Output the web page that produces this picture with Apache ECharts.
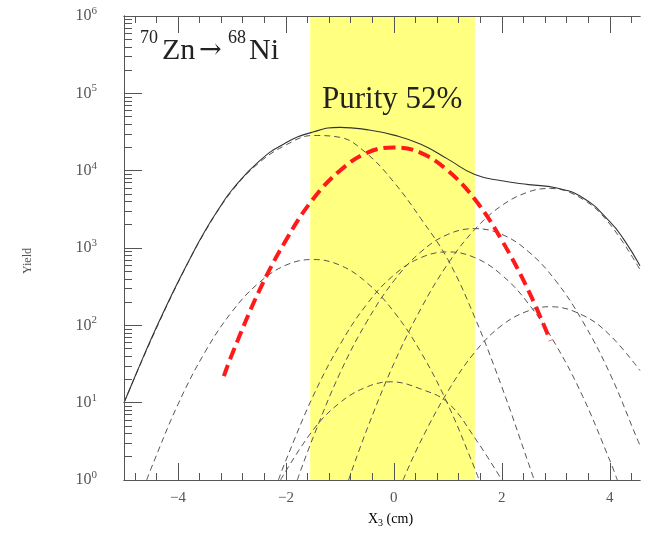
<!DOCTYPE html>
<html><head><meta charset="utf-8">
<script src="https://cdn.jsdelivr.net/npm/echarts@6/dist/echarts.min.js"></script>
<style>html,body{margin:0;padding:0;background:#fff}#c{width:650px;height:537px}</style>
</head><body><div id="c"></div>
<script>
// ---- axis ranges & ticks ----
const xRange = [-5, 4.56];
const yRange = [1, 1000000];
const purityBand = [-1.55, 1.5];
const xMajorTicks = [-4, -2, 0, 2, 4];
const xMinorTicks = [-4.8, -4.4, -3.6, -3.2, -2.8, -2.4, -1.6, -1.2, -0.8, -0.4, 0.4, 0.8, 1.2, 1.6, 2.4, 2.8, 3.2, 3.6, 4.4];
const yMajorTicks = [1, 10, 100, 1000, 10000, 100000, 1000000];
const yMinorTicks = [2,3,4,5,6,7,8,9,20,30,40,50,60,70,80,90,200,300,400,500,600,700,800,900,
  2000,3000,4000,5000,6000,7000,8000,9000,20000,30000,40000,50000,60000,70000,80000,90000,
  200000,300000,400000,500000,600000,700000,800000,900000];
const yExponents = {1:'0',10:'1',100:'2',1000:'3',10000:'4',100000:'5',1000000:'6'};

// ---- series: [X3 (cm), yield] ----
const totalYield = [[-5,10],[-4.75,26],[-4.5,66],[-4.25,158],[-4,363],[-3.75,794],[-3.5,1660],[-3.25,3160],[-3,5620],[-2.5,13200],[-2,22900],[-1.5,31600],[-1,36300],[-0.5,33900],[0,28800],[0.5,21900],[1,14100],[1.5,8900],[2,7400],[2.5,6600],[3,6000],[3.5,4470],[4,2190],[4.25,1320],[4.56,590]];
const ni68Yield = [[-3.15,22],[-3,42],[-2.5,275],[-2,1260],[-1.5,4270],[-1,10000],[-0.5,17000],[0,20000],[0.5,17000],[1,10000],[1.5,4270],[2,1260],[2.5,275],[2.9,63]];
const contamL1 = [[-5,10],[-4.5,64],[-4,355],[-3.5,1620],[-3,5450],[-2.5,12600],[-2,21500],[-1.5,28500],[-1,27000],[-0.5,16600],[0,7100],[0.5,2400],[1,710],[1.5,126],[2,16],[2.5,1.6],[2.6,1]];
const contamA = [[-4.58,1],[-4.5,1.4],[-4,9.5],[-3.5,45],[-3,150],[-2.5,355],[-2,600],[-1.5,710],[-1,600],[-0.5,355],[0,150],[0.5,45],[1,9.5],[1.5,1.4],[1.58,1]];
const contamM1 = [[-1.79,1],[-1.5,3.5],[-1,24],[-0.5,112],[0,376],[0.5,890],[1,1500],[1.5,1780],[2,1500],[2.5,890],[3,376],[3.5,112],[4,24],[4.5,3.5],[4.56,2.8]];
const contamM2 = [[-2.14,1],[-2,1.8],[-1.5,12],[-1,56],[-0.5,188],[0,447],[0.5,750],[1,890],[1.5,750],[2,447],[2.5,188],[3,56],[3.5,12],[4,1.8],[4.14,1]];
const contamR = [[-0.84,1],[-0.5,4.5],[0,32],[0.5,164],[1,624],[1.5,1740],[2,3550],[2.5,5330],[2.9,5890],[3.5,4270],[4,2040],[4.56,525]];
const contamR2 = [[0.17,1],[0.5,3.2],[1,14],[1.5,45],[2,100],[2.5,155],[2.9,174],[3.5,135],[4,75],[4.56,26]];
const contamS1 = [[-2.1,1],[-1.5,4.4],[-1,10],[-0.5,16],[-0.05,18.6],[0.5,15],[1,10],[1.5,3.5],[2,1]];

const dashedSets = [contamL1, contamA, contamM1, contamM2, contamR, contamR2, contamS1];

const chart = echarts.init(document.getElementById('c'), null, {renderer:'canvas'});
const axisColor = '#555';
const labelColor = '#555';
const serif = 'Liberation Serif';

function xAxisDef(pos, ticks, len, labels) {
  return {
    type:'value', position:pos, min:xRange[0], max:xRange[1], z:5,
    axisLine:{show:true, onZero:false, lineStyle:{color:axisColor, width:1}},
    axisTick:{show:true, inside:true, length:len, customValues:ticks, lineStyle:{color:axisColor, width:1}},
    axisLabel:{show:labels, customValues:ticks, margin:11, color:labelColor, fontFamily:serif, fontSize:15,
      formatter: v => String(v).replace('-', '\u2212')},
    splitLine:{show:false}
  };
}
function yAxisDef(ticks, len, labels) {
  return {
    type:'log', logBase:10, position:'left', min:yRange[0], max:yRange[1], z:5,
    axisLine:{show:true, onZero:false, lineStyle:{color:axisColor, width:1}},
    axisTick:{show:true, inside:true, length:len, customValues:ticks, lineStyle:{color:axisColor, width:1}},
    axisLabel:{show:labels, customValues:ticks, margin:27, color:labelColor,
      formatter: v => '{b|10}{e|' + yExponents[Math.round(v)] + '}',
      rich:{b:{fontFamily:serif, fontSize:16, color:labelColor},
            e:{fontFamily:serif, fontSize:11, color:labelColor, padding:[0,0,10,0]}}},
    splitLine:{show:false}, minorTick:{show:false}
  };
}

const series = [];
series.push({
  type:'line', data: totalYield, showSymbol:false, smooth:0.5, z:4,
  lineStyle:{color:'#333', width:1.1},
  markArea:{silent:true, itemStyle:{color:'#ffff80'}, data:[[{xAxis:purityBand[0]},{xAxis:purityBand[1]}]]}
});
dashedSets.forEach(d => series.push({
  type:'line', data:d, showSymbol:false, smooth:0.4, z:3,
  lineStyle:{color:'#555', width:1, type:[6,4]}
}));
series.push({
  type:'line', data: ni68Yield, showSymbol:false, smooth:0.4, z:6,
  lineStyle:{color:'#ff1a1a', width:4, type:[12,6]}
});

chart.setOption({
  animation:false,
  backgroundColor:'#fff',
  grid:{left:124, right:10, top:16, bottom:57, containLabel:false},
  xAxis:[
    xAxisDef('bottom', xMajorTicks, 17, true),
    xAxisDef('bottom', xMinorTicks, 7, false),
    xAxisDef('top', xMajorTicks, 17, false),
    xAxisDef('top', xMinorTicks, 7, false)
  ],
  yAxis:[ yAxisDef(yMajorTicks, 18, true), yAxisDef(yMinorTicks, 8, false) ],
  series: series,
  graphic:[
    {type:'text', z:100, left:140, top:29, style:{text:'70', font:'18px "Liberation Serif"', fill:'#222'}},
    {type:'text', z:100, left:162, top:36, style:{text:'Zn', font:'30px "Liberation Serif"', fill:'#222'}},
    {type:'text', z:100, left:199, top:37, style:{text:'\u2192', font:'27px "DejaVu Serif"', fill:'#222'}},
    {type:'text', z:100, left:228, top:29, style:{text:'68', font:'18px "Liberation Serif"', fill:'#222'}},
    {type:'text', z:100, left:249, top:36, style:{text:'Ni', font:'30px "Liberation Serif"', fill:'#222'}},
    {type:'text', z:100, left:322, top:84, style:{text:'Purity 52%', font:'31px "Liberation Serif"', fill:'#222'}},
    {type:'text', z:100, left:22, top:248, rotation:Math.PI/2, style:{text:'Yield', font:'12px "Liberation Serif"', fill:'#555'}},
    {type:'text', z:100, left:368, top:512, style:{text:'{b|X}{s|3}{b| (cm)}',
      rich:{b:{fontFamily:serif, fontSize:14, color:'#555'}, s:{fontFamily:serif, fontSize:10, color:'#555', padding:[8,0,0,0]}}}}
  ]
});
</script></body></html>
